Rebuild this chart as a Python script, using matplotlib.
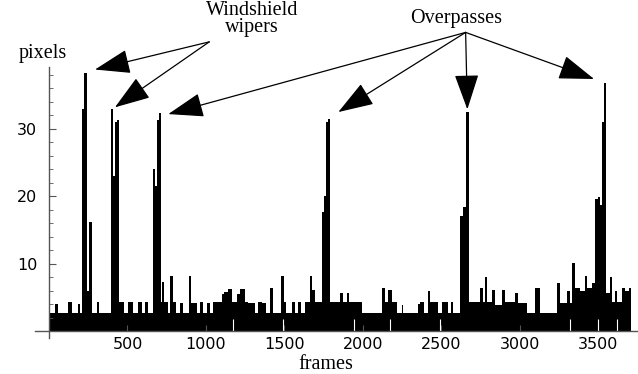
#!/usr/bin/env python3
"""
Foreground pixel count per video frame, with the windshield-wiper and
overpass events pointed out.

Usage: python plot.py   ->  out.png
"""

import matplotlib
matplotlib.use("Agg")
import matplotlib.pyplot as plt

# ── Data ──────────────────────────────────────────────────────────────────────
# The trace is read off the picture as runs: each run starts at a frame and
# holds its pixel count until the next run starts.
RUN_START = [
    0, 38, 57, 121, 147, 185, 198, 210, 226, 242, 258, 274, 306, 318,
    395, 408, 420, 433, 446, 478, 503, 535, 567, 592, 612, 631,
    662, 675, 688, 701, 713, 723, 733, 758, 774, 787, 809, 834, 854,
    892, 905, 943, 962, 981, 1006, 1025, 1045, 1102, 1115, 1140, 1166,
    1198, 1217, 1249, 1268, 1312, 1331, 1357, 1382, 1408, 1427, 1478,
    1494, 1510, 1548, 1567, 1586, 1605, 1631, 1663, 1675, 1694,
    1739, 1749, 1765, 1777, 1793, 1854, 1873, 1898, 1911, 1994,
    2121, 2140, 2159, 2185, 2217, 2249, 2255, 2351, 2363, 2389, 2414,
    2427, 2478, 2504, 2542, 2561, 2574, 2618, 2637, 2656, 2675,
    2745, 2765, 2777, 2790, 2822, 2841, 2886, 2905, 2969, 2988, 3045,
    3096, 3128, 3236, 3255, 3300, 3319, 3332, 3351, 3383, 3414, 3427,
    3459, 3478, 3497, 3510, 3523, 3535, 3548, 3574, 3587, 3606, 3619,
    3651, 3670, 3695,
]
RUN_PIXELS = [
    2.8, 4.1, 2.7, 4.4, 2.7, 4.1, 2.8, 33.0, 38.3, 6.0, 16.2, 2.8, 4.4, 2.8,
    33.0, 23.0, 31.0, 31.3, 4.4, 2.8, 4.4, 2.8, 4.4, 2.8, 4.4, 2.8,
    24.1, 21.5, 31.3, 32.3, 4.4, 7.3, 4.4, 2.8, 8.2, 4.4, 2.8, 4.2, 2.8,
    8.2, 4.2, 2.8, 4.4, 2.8, 4.2, 2.8, 4.3, 5.5, 5.9, 6.3, 4.4,
    5.5, 6.3, 4.4, 4.2, 2.8, 4.4, 4.2, 2.8, 6.4, 2.8, 8.2,
    4.4, 2.8, 4.4, 2.8, 4.4, 2.8, 4.4, 8.2, 6.1, 4.4,
    17.7, 20.0, 31.0, 31.5, 4.4, 5.7, 4.4, 5.7, 4.4, 2.8,
    6.4, 4.4, 6.2, 4.4, 2.8, 3.9, 2.8, 4.0, 4.4, 2.8, 6.0,
    4.4, 2.8, 4.4, 2.8, 4.4, 2.8, 17.1, 18.4, 32.5, 4.4,
    6.4, 4.4, 8.0, 4.4, 6.2, 3.9, 6.2, 4.4, 5.7, 4.2, 2.8,
    6.4, 2.8, 7.2, 4.2, 6.0, 4.2, 10.2, 6.4, 6.0, 8.2, 6.4,
    7.2, 19.6, 19.9, 18.8, 31.1, 36.8, 5.7, 8.0, 4.4, 6.0, 4.4,
    6.4, 6.0, 6.4,
]
LAST_FRAME = 3708

# frames where the count falls to zero (thin white gaps in the band)
DROPOUT_FRAMES = [1174, 1492, 1943, 2172, 2491, 3319, 3497, 3618]

X_TICKS = [500, 1000, 1500, 2000, 2500, 3000, 3500]
Y_TICKS = [10, 20, 30]
Y_MINOR = list(range(2, 39, 2))

assert len(RUN_START) == len(RUN_PIXELS)

SERIF = "Liberation Serif"
AXIS_GREY = "#555555"


def main():
    fig = plt.figure(figsize=(6.38, 3.74), dpi=100)
    ax = fig.add_axes([0, 0, 1, 1])
    ax.set_xlim(-312, 3752)
    ax.set_ylim(-6.3, 49.1)
    ax.patch.set_visible(False)

    # ── trace ──
    xs = RUN_START + [LAST_FRAME]
    ys = RUN_PIXELS + [RUN_PIXELS[-1]]
    ax.fill_between(xs, 0, ys, step="post", color="black", lw=0)
    ax.vlines(DROPOUT_FRAMES, 0, 1.8, colors="white", lw=0.8)

    # ── Mathematica-style crossing axes ──
    ax.spines["top"].set_visible(False)
    ax.spines["right"].set_visible(False)
    ax.spines["left"].set_position(("data", 0))
    ax.spines["bottom"].set_position(("data", 0))
    ax.spines["left"].set_bounds(-1, 39.2)
    ax.spines["bottom"].set_bounds(-90, 3745)
    for s in ("left", "bottom"):
        ax.spines[s].set_color(AXIS_GREY)
        ax.spines[s].set_linewidth(1.0)
        ax.spines[s].set_zorder(3)

    ax.set_xticks(X_TICKS)
    ax.set_yticks(Y_TICKS)
    ax.set_yticks(Y_MINOR, minor=True)
    ax.tick_params(axis="x", direction="in", length=4, pad=4,
                   color=AXIS_GREY, labelsize=11.5)
    ax.tick_params(axis="y", which="major", direction="in", length=5, pad=8.5,
                   color=AXIS_GREY, labelsize=11.5)
    ax.tick_params(axis="y", which="minor", direction="in", length=3,
                   color=AXIS_GREY)

    # ── axis labels ──
    ax.text(-38, 40.5, "pixels", family=SERIF, fontsize=14.5,
            ha="center", va="baseline")
    ax.text(1765, -5.55, "frames", family=SERIF, fontsize=14.5,
            ha="center", va="baseline")

    # ── callouts ──
    arrow = dict(arrowstyle="-|>,head_length=1.6,head_width=0.55",
                 mutation_scale=14, color="black", lw=0.9,
                 shrinkA=0, shrinkB=0)

    ax.text(1293, 44.4, "Windshield\nwipers", family=SERIF, fontsize=14.5,
            ha="center", va="baseline", linespacing=0.82)
    for tip in [(293, 38.8), (420, 33.2)]:
        ax.annotate("", xy=tip, xytext=(1021, 42.9), arrowprops=arrow)

    ax.text(2593, 45.66, "Overpasses", family=SERIF, fontsize=14.5,
            ha="center", va="baseline")
    for tip in [(760, 32.2), (1843, 32.5), (2665, 32.9), (3472, 37.4)]:
        ax.annotate("", xy=tip, xytext=(2654, 44.3), arrowprops=arrow)

    fig.savefig("out.png", dpi=100)
    plt.close(fig)


if __name__ == "__main__":
    main()
